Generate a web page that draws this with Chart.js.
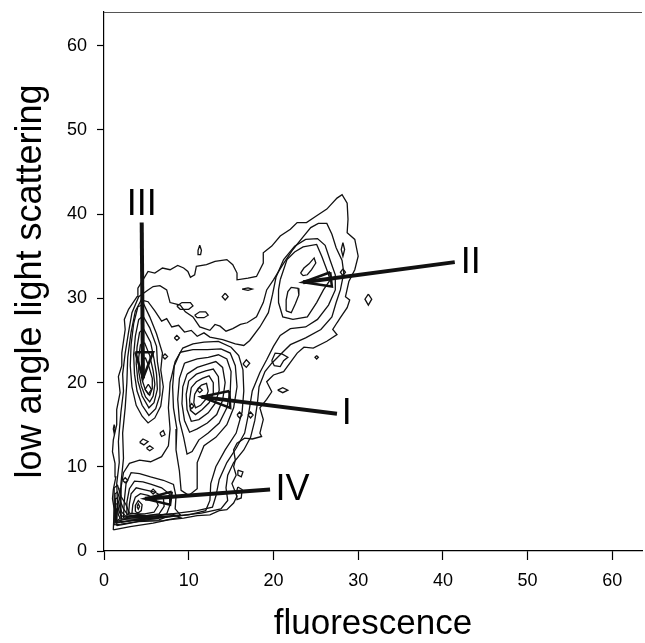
<!DOCTYPE html>
<html>
<head>
<meta charset="utf-8">
<script src="https://cdn.jsdelivr.net/npm/chart.js@4.4.1/dist/chart.umd.min.js"></script>
<style>
html, body { margin: 0; padding: 0; background: #fff; }
#wrap { width: 645px; height: 643px; }
</style>
</head>
<body>
<div id="wrap"><canvas id="chart"></canvas></div>
<script>

// axis ticks
const xTicks = [ 0, 10, 20, 30, 40, 50, 60 ];
const yTicks = [ 0, 10, 20, 30, 40, 50, 60 ];

// contour levels, [ fluorescence, scattering ]
const contourOuter = [ [1.1,2.5],[1.2,5],[1.0,6.2],[1.1,7.3],[1.4,8.8],[1.3,10.4],[1.0,11.8],[1.1,13.2],[1.5,15.0],[1.5,16.8],[1.9,18.8],[1.7,20.7],[2.1,22.0],[2.1,23.5],[2.5,26.3],[2.4,27.5],[2.9,28.7],[3.9,30.2],[4.0,31.2],[4.6,32.2],[5.2,33.2],[6,33],[6.9,33.6],[7.8,33.4],[8.7,33.9],[9.4,33.6],[9.9,33.2],[10.2,32.5],[10.7,32.8],[10.9,33.8],[12.1,34],[13.1,34.4],[14.5,34.6],[15.2,34],[15.7,33],[15.7,32.2],[17,32.4],[18,32.6],[18.8,34.2],[18.8,35.4],[19.8,36.2],[20.8,37.4],[22,38.2],[22.8,39],[23.9,39],[25.1,39.8],[26.3,40.6],[27.5,41.9],[28.1,42.3],[28.7,41.3],[28.8,39.4],[28.7,37.8],[29.6,37],[30,35],[29.6,33.4],[28.9,32],[28.5,30.2],[29,29.8],[28.7,28.9],[27.9,27.7],[27.5,27.1],[27,26.3],[27.5,25.7],[26.3,24.9],[24.7,24.1],[23.6,24.2],[22.8,23.5],[22,22.4],[21.2,21.3],[20,20.9],[19.2,20.1],[19.8,18.9],[19.2,18],[18.4,17],[18.8,15.6],[18.4,14],[18.6,13.6],[17.5,13.3],[16.6,13.4],[15.7,12.8],[15.3,12],[15.5,10.8],[15.3,10],[15.6,9.0],[15.1,8],[15.7,6.5],[15.3,5.7],[14.5,4.9],[13.6,4.8],[12.5,4.3],[11.0,4.2],[9.4,3.9],[7.6,3.7],[5.8,3.3],[3.1,2.9] ];
const contourSecond = [ [1.5,3.0],[1.6,5.5],[1.5,8],[1.8,10.5],[1.7,13],[2.0,16.5],[2.3,19],[2.2,21],[2.5,23.5],[2.9,26],[3.3,28.3],[4.1,30.2],[5.2,31.0],[5.8,31.4],[6.6,31.5],[7.4,31],[7.8,29.5],[9,29.2],[9.6,28.4],[10.5,27.8],[11.3,26.6],[12.5,26.2],[13.1,26.9],[13.7,26.7],[14.4,26.1],[15.2,26.4],[16.1,26.9],[16.9,27.1],[18,27.8],[18.8,29.5],[19.2,31],[20,32.2],[21.1,34],[22.3,35.8],[23.5,37.3],[24.4,38.4],[25.3,38.9],[26.3,38.9],[26.9,37.6],[27.4,36],[28.1,34.5],[28.3,33],[27.9,31],[27.4,29.5],[26.9,27.8],[25.6,26.3],[23.8,25.3],[22,24.5],[21,23.5],[19.8,22.3],[19,21.3],[18.3,19.5],[18.1,17.5],[17.8,15.5],[17.3,13.5],[16.5,12],[15.3,10.5],[14.6,9],[14.4,7.5],[14.6,6],[13.8,5],[11.5,4.5],[8,4.1],[5,3.7],[2.5,3.2] ];
const contourThird = [ [2.0,3.4],[2.0,8],[2.3,11],[2.2,14],[2.5,17],[2.7,20],[2.8,23],[3.2,26],[3.7,28.5],[4.4,29.8],[5.2,29.6],[6,28.5],[6.8,27.3],[7.4,27.6],[8,26.6],[8.8,26.8],[9.5,26],[10.3,26.2],[11,25.5],[11.8,25.9],[12.5,25.4],[14,25.1],[15.5,24.6],[16.5,24.4],[17.2,25],[18.4,26.6],[19.4,28.3],[19.9,30.5],[20.3,32.5],[21.2,34.6],[22.5,36.2],[23.8,37],[25.2,37.1],[26.1,36.3],[26.7,34.5],[27.3,32.8],[27.3,31],[26.5,29.2],[25.2,27.5],[23.8,26.6],[22,26.4],[20.8,25.6],[20,24.3],[19.2,22.7],[18.4,21.2],[17.5,19],[17.1,16.5],[16.6,14],[15.6,12.2],[14.5,10.5],[13.6,8.5],[13.2,6.5],[12.8,5.2],[11,4.8],[8,4.4],[5,4.0] ];
const contourTrunk = [ [7.8,20],[7.6,17],[7.8,14.5],[7.6,12.5],[6.8,11.2],[5.5,10.6],[4.2,10.8],[3.0,10.4],[2.3,9.3],[2.0,7.5],[1.9,5],[2.1,3.8],[4,3.8],[7,4.0],[10,4.3],[12,4.8],[12.5,6],[12.6,8],[13.2,10],[14.3,12],[15.6,14],[16.3,16.5],[16.5,19],[16.4,21.5],[15.9,23.2],[15,24.2],[13.5,24.9],[11.8,24.8],[10.5,24.6],[9.3,24.1],[8.4,22.5] ];

// peak III
const peak3a = [ [4.0,29],[3.5,27],[3.2,24.5],[3.1,22],[3.3,19.5],[3.8,17.3],[4.5,16],[5.2,15.2],[6.0,15.8],[6.7,17.2],[7.0,19.5],[6.7,21.5],[6.9,23.5],[6.2,25.8],[5.4,27.8],[4.7,29.3] ];
const peak3b = [ [4.1,27.5],[3.7,25.5],[3.5,23.3],[3.6,21],[3.9,19],[4.5,17.3],[5.3,16.1],[6.1,16.9],[6.6,18.5],[6.6,20.5],[6.3,22.5],[6.2,24.3],[5.4,26.5],[4.6,27.9] ];
const peak3c = [ [4.2,26],[3.9,24.2],[3.8,22.3],[4.0,20.2],[4.5,18.4],[5.3,17.0],[5.9,17.6],[6.3,19.2],[6.2,21],[5.9,22.8],[5.5,24.8],[4.7,26.3] ];
const peak3d = [ [4.3,24.5],[4.1,23],[4.1,21.3],[4.4,19.6],[4.9,18.3],[5.4,17.7],[5.8,18.4],[6.0,19.8],[5.8,21.4],[5.4,23.2],[4.8,24.7] ];
const peak3e = [ [4.5,22.8],[4.4,21.6],[4.5,20.3],[4.9,19.1],[5.4,18.5],[5.7,19.3],[5.7,20.5],[5.3,21.9],[4.9,22.9] ];
const peak3f = [ [5.23,19.8],[5.6,19.2],[5.23,18.6],[4.85,19.2] ];

// peak I
const peak1a = [ [9.0,23.6],[8.3,22],[8.1,19.5],[8.2,17],[8.6,14.5],[8.5,12],[8.9,9.5],[9.1,7.2],[10,6.6],[11,7.4],[11,10.5],[11.8,12.5],[13.2,13.5],[14.5,15],[15.3,17],[15.7,19.5],[15.5,22],[14.9,23.5],[13.8,24.0],[12.2,23.9],[10.5,23.9] ];
const peak1b = [ [9.5,22.3],[8.9,20.5],[8.7,18],[8.9,15.5],[9.4,13.5],[9.8,11.5],[10.4,11.8],[11.2,13.2],[12.3,14],[13.6,15.2],[14.5,17],[14.9,19],[15.0,21.3],[14.5,22.8],[13.5,23.3],[12.3,23.0],[11,22.8] ];
const peak1c = [ [9.8,21],[9.3,19.5],[9.2,17.5],[9.5,15.5],[10.1,14.1],[11.0,14.5],[12.2,15.2],[13.3,16.2],[14.0,17.9],[14.3,20],[14.0,21.8],[13.2,22.5],[12.2,22.2],[11,21.8] ];
const peak1d = [ [10.0,20.2],[9.7,18.6],[9.8,16.8],[10.3,15.4],[11.2,15.6],[12.3,16.4],[13.1,17.5],[13.6,19.1],[13.5,20.7],[12.9,21.6],[12,21.4],[10.9,21.0] ];
const peak1e = [ [10.3,19.4],[10.1,18],[10.2,16.7],[10.8,16.2],[11.6,16.8],[12.4,17.6],[12.9,18.7],[12.9,20.0],[12.4,20.8],[11.6,20.5],[10.9,20.1] ];
const peak1f = [ [10.7,18.6],[10.6,17.6],[10.8,17.0],[11.4,17.3],[12,18],[12.3,19],[12.1,19.9],[11.5,19.7],[11.1,19.3] ];
const peak1g = [ [11.0,19.1],[11.3,19.4],[11.6,19.1],[11.3,18.8] ];
const peak1h = [ [10.1,17.2],[10.35,17.5],[10.6,17.2],[10.35,16.9] ];

// peak II
const peak2a = [ [20.8,32.2],[21.6,34.6],[22.5,35.5],[23.5,36.1],[25.1,36.4],[25.7,35],[26.3,33.4],[26.7,32.2],[25.9,31],[25.1,29.5],[24,27.8],[22.3,27.5],[21.1,27.8],[20.6,29.5],[20.6,31] ];
const peak2b = [ [23.2,33.0],[23.6,33.6],[24.2,34.1],[24.8,34.8],[25.0,34.2],[24.5,33.4],[24.0,32.8],[23.5,32.7] ];
const peak2c = [ [21.5,28.5],[21.5,29.8],[21.7,30.8],[22.1,31.3],[22.9,31.2],[23.0,30.4],[22.6,29.4],[22.1,28.3] ];

// peak IV and the dense corner
const peak4a = [ [2.3,3.9],[2.4,6],[2.6,8],[3.2,9.3],[4.2,9.2],[5.5,8.8],[7,8.4],[8.2,7.9],[8.5,6.5],[8.4,5],[9.0,4.3],[7,4.1],[4.5,4.0] ];
const peak4b = [ [2.6,4.1],[2.7,5.8],[3.0,7.4],[3.6,8.3],[4.6,8.2],[5.6,7.9],[6.8,7.5],[7.7,6.8],[7.8,5.5],[7.4,4.4],[6,4.1],[4,4.1] ];
const peak4c = [ [2.9,4.3],[3.0,5.6],[3.2,6.8],[3.8,7.5],[4.7,7.3],[6.0,7.0],[7.0,6.4],[7.1,5.3],[6.5,4.4],[5,4.2],[3.6,4.2] ];
const peak4d = [ [3.3,4.5],[3.4,5.5],[3.7,6.4],[4.3,6.8],[5.2,6.6],[6.1,6.2],[6.4,5.4],[5.9,4.6],[4.8,4.4],[3.9,4.4] ];
const peak4e = [ [3.7,4.7],[3.7,5.4],[4.05,6.0],[4.5,5.5],[4.4,4.8],[4.0,4.5] ];
const peak4f = [ [5.5,7.05],[5.8,7.35],[6.1,7.05],[5.8,6.75] ];
const peak4g = [ [3.9,5.27],[4.05,5.6],[4.2,5.27],[4.05,4.95] ];
const corner1 = [ [1.2,3.1],[1.2,7.5],[1.6,7.8],[2.0,6.5],[2.6,5.5],[3.0,4.5],[5,4.2],[8,4.4],[9,4.0],[7,3.6],[4,3.5],[2,3.2] ];
const corner2 = [ [1.3,3.3],[1.3,6.8],[1.6,7.0],[1.9,6.0],[2.3,5.0],[2.8,4.3],[5,4.0],[7.5,4.1],[6.5,3.7],[3.5,3.6],[1.8,3.4] ];
const corner3 = [ [1.35,3.4],[1.35,6.2],[1.6,6.3],[1.8,5.4],[2.1,4.6],[2.6,4.1],[4.5,3.9],[6.5,3.9],[4,3.7],[2,3.5] ];
const corner4 = [ [1.4,3.5],[1.4,5.6],[1.6,5.6],[1.75,4.8],[2.0,4.2],[3,3.9],[2.2,3.7] ];
const corner5 = [ [1.45,3.6],[1.45,5.0],[1.6,4.9],[1.7,4.3],[1.9,3.9],[1.7,3.7] ];

// small islands
const islands = [
    [ [11.3,36.3],[11.5,35.7],[11.4,35.2],[11.2,35.2],[11.1,35.7] ],
    [ [14.3,30.6],[14.65,30.2],[14.3,29.8],[13.95,30.2] ],
    [ [16.3,31.1],[17.0,31.25],[17.5,31.1],[17.0,30.95] ],
    [ [8.6,29.1],[9.2,29.5],[10.2,29.5],[10.5,29.1],[10.0,28.7],[9.0,28.7] ],
    [ [10.7,28.0],[11.3,28.4],[12.0,28.4],[12.3,28.0],[11.8,27.7],[11.0,27.7] ],
    [ [31.2,30.5],[31.6,29.9],[31.2,29.2],[30.8,29.9] ],
    [ [28.2,33.5],[28.5,33.1],[28.2,32.7],[27.9,33.1] ],
    [ [28.2,36.6],[28.4,35.8],[28.2,35],[28.0,35.8] ],
    [ [25.1,23.2],[25.3,23],[25.1,22.8],[24.9,23] ],
    [ [19.8,22.6],[20.2,23.5],[21.0,23.4],[21.7,23.0],[21.2,22.6],[20.8,21.9],[20.1,22.0] ],
    [ [20.5,19.1],[21.1,19.4],[21.7,19.1],[21.1,18.8] ],
    [ [16.4,22.2],[16.8,22.7],[17.2,22.3],[16.8,21.8] ],
    [ [15.7,16.15],[16.0,16.5],[16.3,16.15],[16.0,15.8] ],
    [ [17.0,16.15],[17.3,16.5],[17.6,16.15],[17.3,15.8] ],
    [ [5.0,12.2],[5.4,12.5],[5.8,12.2],[5.4,11.9] ],
    [ [2.2,8.4],[2.5,8.7],[2.8,8.4],[2.5,8.1] ],
    [ [6.9,23.1],[7.2,23.4],[7.5,23.1],[7.2,22.8] ],
    [ [8.3,25.3],[8.6,25.6],[8.9,25.3],[8.6,25.0] ],
    [ [15.8,7.6],[16.3,7.3],[16.2,6.3],[15.7,6.1],[15.6,6.9] ],
    [ [15.8,9.6],[16.4,9.4],[16.2,8.8],[15.8,9.0] ],
    [ [1.2,15],[1.3,14.5],[1.2,14],[1.1,14.5] ],
    [ [4.2,12.9],[4.6,13.3],[5.2,13.0],[4.7,12.6] ],
    [ [6.6,14.0],[7.0,14.3],[7.2,13.8],[6.8,13.6] ]
];

// arrows and peak labels
const peakNames = [ 'III', 'II', 'I', 'IV' ];
const peakLabelX = [ 4.45, 43.3, 28.65, 22.25 ];
const peakLabelY = [ 41.1, 34.2, 16.2, 7.25 ];
const arrowTail = [ [4.45,39.0], [41.4,34.3], [27.5,16.3], [19.6,7.3] ];
const arrowTip = [ [4.6,20.5], [23.5,31.9], [11.5,18.3], [4.84,6.2] ];
const arrowBarbA = [ [3.7,23.6], [26.7,33.1], [14.8,19.0], [8.0,7.05] ];
const arrowBarbB = [ [5.8,23.6], [26.9,31.4], [14.9,17.0], [7.8,5.5] ];

const contours = [
    contourOuter, contourSecond, contourThird, contourTrunk,
    peak3a, peak3b, peak3c, peak3d, peak3e, peak3f,
    peak1a, peak1b, peak1c, peak1d, peak1e, peak1f, peak1g, peak1h,
    peak2a, peak2b, peak2c,
    peak4a, peak4b, peak4c, peak4d, peak4e, peak4f, peak4g,
    corner1, corner2, corner3, corner4, corner5
].concat( islands );

const FONT = '"Liberation Sans", Arial, sans-serif';

function pts( list, close ) {
    let p = close ? list.concat( [ list[0] ] ) : list;
    return p.map( q => ( { x: q[0], y: q[1] } ) );
}

function line( data, width ) {
    return {
        data: data,
        showLine: true,
        borderColor: '#111',
        borderWidth: width,
        pointRadius: 0,
        tension: 0,
        fill: false
    };
}

let datasets = contours.map( c => line( pts( c, true ), 1.3 ) );

arrowTip.forEach( ( tip, i ) => {
    datasets.push( line( pts( [ arrowTail[i], tip ] ), 4 ) );
    datasets.push( line( pts( [ arrowBarbA[i], tip, arrowBarbB[i] ], true ), 2.5 ) );
} );

// frame top edge and the peak labels
const annotate = {
    id: 'annotate',
    afterDatasetsDraw( chart ) {
        let ctx = chart.ctx, a = chart.chartArea,
            sx = chart.scales.x, sy = chart.scales.y;
        ctx.save();
        ctx.strokeStyle = '#555';
        ctx.lineWidth = 1;
        ctx.beginPath();
        ctx.moveTo( a.left, a.top + 0.5 );
        ctx.lineTo( a.right, a.top + 0.5 );
        ctx.stroke();
        ctx.fillStyle = '#000';
        ctx.font = '36px ' + FONT;
        ctx.textAlign = 'center';
        ctx.textBaseline = 'middle';
        peakNames.forEach( ( t, i ) => {
            ctx.fillText( t, sx.getPixelForValue( peakLabelX[i] ), sy.getPixelForValue( peakLabelY[i] ) );
        } );
        ctx.restore();
    }
};

new Chart( document.getElementById( 'chart' ), {
    type: 'scatter',
    data: { datasets: datasets },
    plugins: [ annotate ],
    options: {
        responsive: true,
        maintainAspectRatio: false,
        animation: false,
        events: [],
        layout: { padding: { top: 12, right: 3, left: 0, bottom: 0 } },
        plugins: { legend: { display: false }, tooltip: { enabled: false } },
        scales: {
            x: {
                type: 'linear',
                min: 0,
                max: 63.5,
                afterFit: ( s ) => { s.height = 92; s.paddingLeft = 0; s.paddingRight = 0; },
                afterBuildTicks: ( s ) => { s.ticks = xTicks.map( v => ( { value: v } ) ); },
                border: { display: true, color: '#000', width: 1.2 },
                grid: { drawOnChartArea: false, drawTicks: true, tickLength: 9, tickColor: '#000', tickWidth: 1.2 },
                ticks: { color: '#000', padding: 10, maxRotation: 0, font: { family: FONT, size: 18 } },
                title: {
                    display: true,
                    text: 'fluorescence',
                    color: '#000',
                    font: { family: FONT, size: 35, lineHeight: 1 },
                    padding: { top: 0, bottom: 1 }
                }
            },
            y: {
                type: 'linear',
                min: 0,
                max: 64,
                afterFit: ( s ) => { s.width = 104; s.paddingTop = 0; s.paddingBottom = 0; },
                afterBuildTicks: ( s ) => { s.ticks = yTicks.map( v => ( { value: v } ) ); },
                border: { display: true, color: '#000', width: 1.2 },
                grid: { drawOnChartArea: false, drawTicks: true, tickLength: 7, tickColor: '#000', tickWidth: 1.2 },
                ticks: { color: '#000', padding: 10, font: { family: FONT, size: 18 } },
                title: {
                    display: true,
                    text: 'low angle light scattering',
                    color: '#000',
                    font: { family: FONT, size: 36, lineHeight: 1 },
                    padding: { top: 13, bottom: 0 }
                }
            }
        }
    }
} );

</script>
</body>
</html>
